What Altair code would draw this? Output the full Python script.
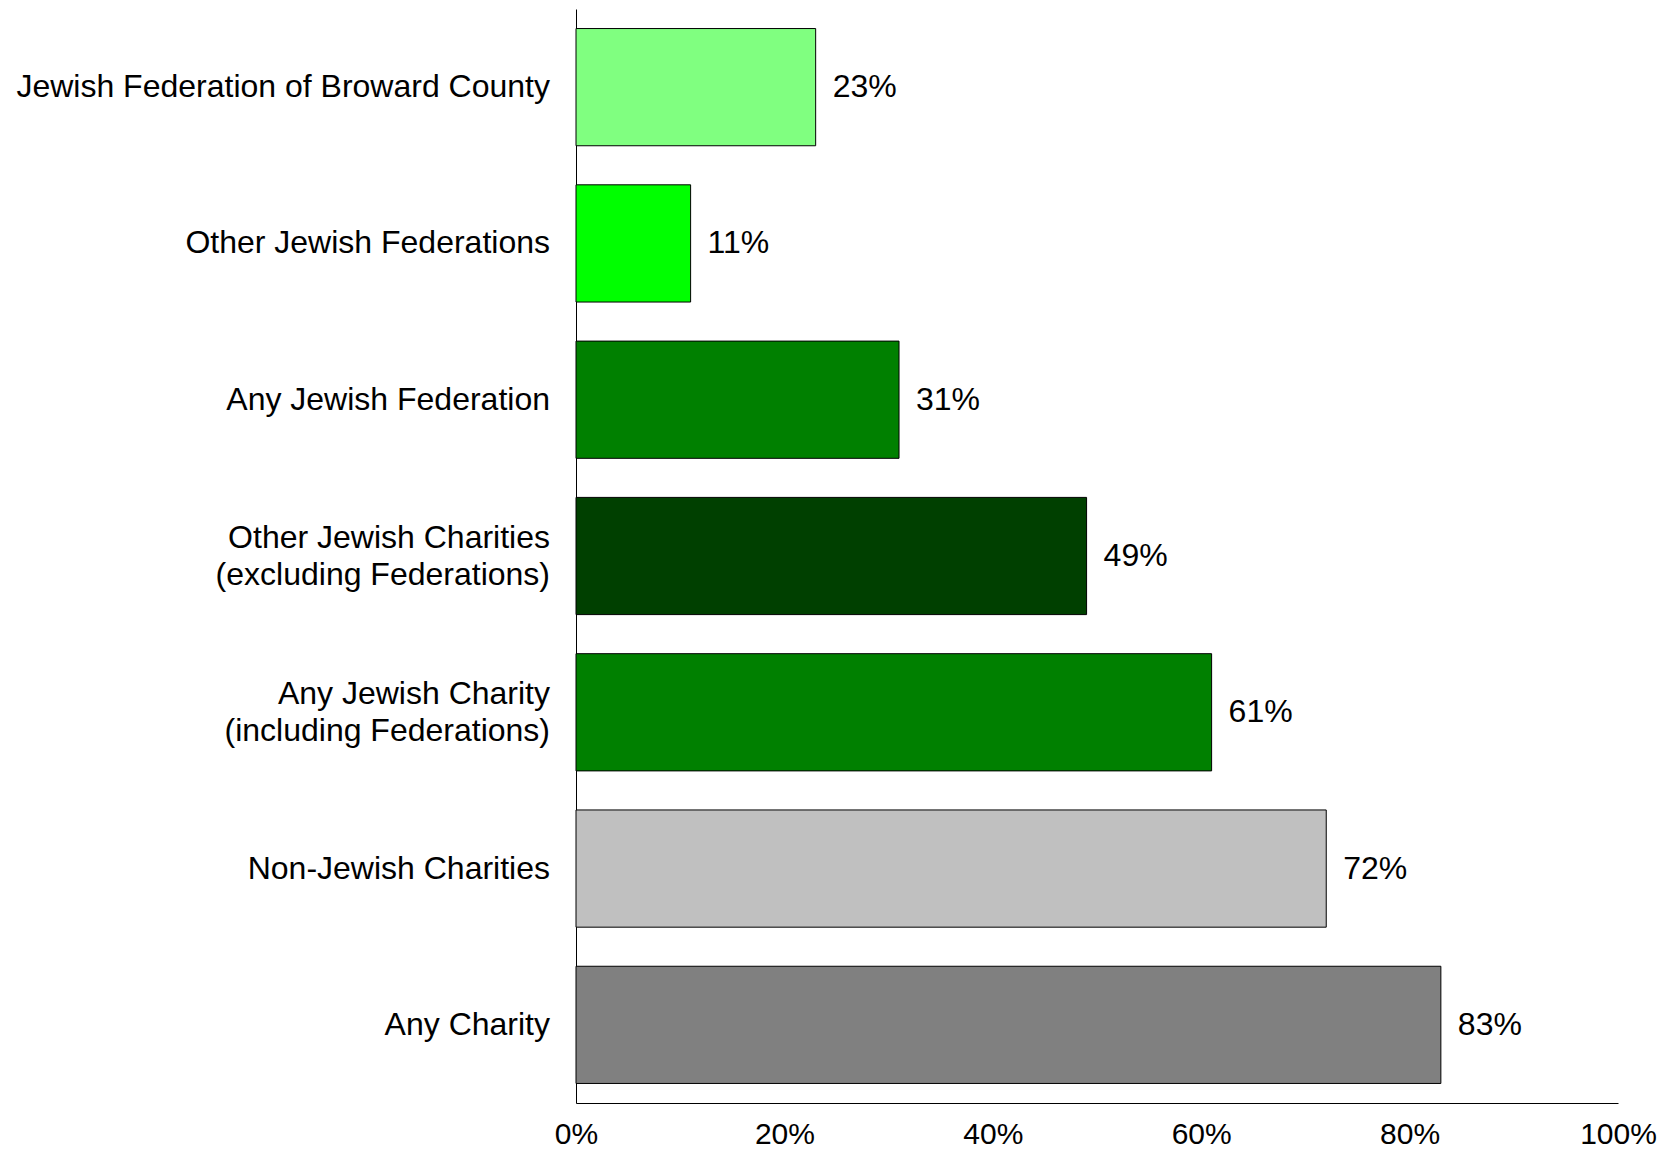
import altair as alt
import pandas as pd

categories = [
    "Jewish Federation of Broward County",
    "Other Jewish Federations",
    "Any Jewish Federation",
    "Other Jewish Charities\n(excluding Federations)",
    "Any Jewish Charity\n(including Federations)",
    "Non-Jewish Charities",
    "Any Charity",
]
values = [23, 11, 31, 49, 61, 72, 83]
colors = ["#80FF80", "#00FF00", "#008000", "#004000", "#008000", "#C0C0C0", "#808080"]

df = pd.DataFrame({
    "cat": categories,
    "val": [v / 100 for v in values],
    "lab": [f"{v}%" for v in values],
    "color": colors,
    "multi": [("\n" in c) for c in categories],
})

FONT = "Liberation Sans"
FS = 32

y_enc = alt.Y(
    "cat:N",
    sort=categories,
    scale=alt.Scale(paddingInner=0.25, paddingOuter=0.125),
    axis=alt.Axis(
        title=None,
        ticks=False,
        labels=False,
        grid=False,
        domain=True,
        domainColor="black",
        domainWidth=1,
    ),
)

x_enc = alt.X(
    "val:Q",
    scale=alt.Scale(domain=[0, 1], nice=False),
    axis=alt.Axis(
        title=None,
        format=".0%",
        values=[0, 0.2, 0.4, 0.6, 0.8, 1.0],
        ticks=False,
        grid=False,
        domainColor="black",
        domainWidth=1,
        labelFont=FONT,
        labelFontSize=30,
        labelColor="black",
        labelPadding=16,
        labelFlush=False,
    ),
)

bars = alt.Chart(df).mark_bar(stroke="black", strokeWidth=1).encode(
    y=y_enc,
    x=x_enc,
    color=alt.Color("color:N", scale=None),
)

text = alt.Chart(df).mark_text(
    align="left", baseline="middle", dx=17, font=FONT, fontSize=FS, color="black"
).encode(
    y=alt.Y("cat:N", sort=categories),
    x=alt.X("val:Q"),
    text="lab:N",
)

single_labels = alt.Chart(df).transform_filter(
    "!datum.multi"
).mark_text(
    align="right", baseline="middle", font=FONT, fontSize=FS, color="black",
).encode(
    y=alt.Y("cat:N", sort=categories),
    x=alt.value(-26),
    text="cat:N",
)

multi_labels = alt.Chart(df).transform_filter(
    "datum.multi"
).mark_text(
    align="right", baseline="middle", font=FONT, fontSize=FS, color="black",
    lineBreak="\n", lineHeight=37, dy=-18.5,
).encode(
    y=alt.Y("cat:N", sort=categories),
    x=alt.value(-26),
    text="cat:N",
)

chart = (
    alt.layer(bars, text, single_labels, multi_labels)
    .properties(
        width=1042,
        height=1094,
        background="white",
        autosize=alt.AutoSizeParams(type="none"),
        padding={"left": 568, "top": 1, "right": 40, "bottom": 50},
    )
    .configure_view(stroke="transparent", strokeWidth=0)
    .configure_axis(grid=False)
)

chart.save("out.html", embed_options={"renderer": "svg", "actions": False})
